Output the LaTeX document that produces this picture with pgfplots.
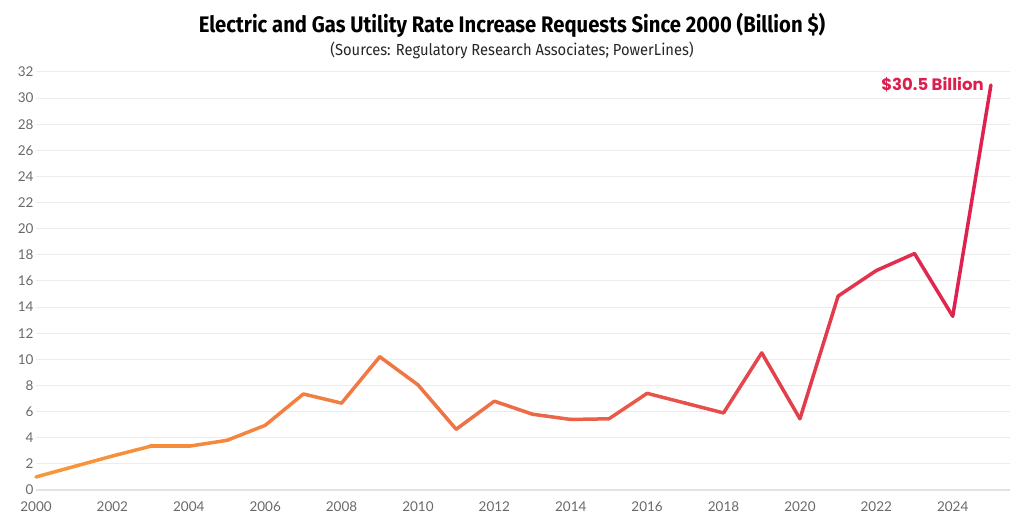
\documentclass[border=0pt]{standalone}
\usepackage{fontspec}
\setmainfont{Lato}
\newfontfamily\titlefont[FakeStretch=0.9]{Fira Sans}
\newfontfamily\subfont[FakeStretch=0.92]{Fira Sans}
\newfontfamily\labelfont{Poppins}
\usepackage{pgfplots}
\pgfplotsset{compat=1.18}
\definecolor{gridgray}{RGB}{236,236,236}
\definecolor{zerogray}{RGB}{226,226,226}
\definecolor{tickgray}{RGB}{105,105,105}
\definecolor{crimson}{RGB}{221,30,78}

\begin{document}
\begin{tikzpicture}[x=1pt,y=1pt]
\useasboundingbox (0,0) rectangle (1024,524);
\begin{axis}[
    at={(36pt,34pt)}, anchor=south west,
    scale only axis, width=974pt, height=418pt,
    xmin=2000, xmax=2025.5, ymin=0, ymax=32,
    axis line style={draw=none}, tick style={draw=none},
    xtick={2000,2002,...,2024}, ytick={0,2,...,32},
    ymajorgrids, grid style={color=gridgray, line width=1pt},
    /pgf/number format/1000 sep={},
    /pgf/number format/assume math mode=true,
    ticklabel style={font=\fontsize{13.5}{13.5}\selectfont, text=tickgray},
    xticklabel style={yshift=-8pt},
    yticklabel style={xshift=1pt},
    colormap={util}{rgb255=(248,152,56) rgb255=(236,108,72) rgb255=(222,30,80)},
    clip=false,
]
\draw[zerogray, line width=1.6pt] (axis cs:2000,0) -- (axis cs:2025.5,0);
\addplot[mesh, point meta=x, line width=3.5pt, line join=round, line cap=round]
coordinates {
    (2000,1.0) (2001,1.8) (2002,2.6) (2003,3.35) (2004,3.35)
    (2005,3.8) (2006,4.95) (2007,7.35) (2008,6.65) (2009,10.2)
    (2010,8.05) (2011,4.65) (2012,6.8) (2013,5.8) (2014,5.4)
    (2015,5.45) (2016,7.4) (2017,6.65) (2018,5.9) (2019,10.5)
    (2020,5.45) (2021,14.85) (2022,16.8) (2023,18.1) (2024,13.3)
    (2025,31.0)
};
\node[anchor=east, inner sep=0pt, xshift=-7pt,
      font=\labelfont\bfseries\fontsize{16.5}{16.5}\selectfont, text=crimson]
      at (axis cs:2025,31) {\$30.5 Billion};
\end{axis}
\node[font=\titlefont\bfseries\fontsize{22.5}{22.5}\selectfont, text=black] at (512,499)
    {Electric and Gas Utility Rate Increase Requests Since 2000 (Billion \$)};
\node[font=\subfont\fontsize{16}{16}\selectfont, text=black!85] at (512,474)
    {(Sources: Regulatory Research Associates; PowerLines)};
\end{tikzpicture}
\end{document}
